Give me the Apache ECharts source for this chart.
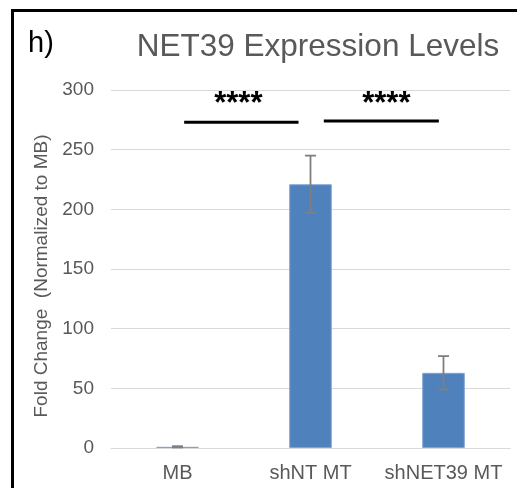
<!DOCTYPE html>
<html>
<head>
<meta charset="utf-8">
<script src="https://cdn.jsdelivr.net/npm/echarts@6/dist/echarts.min.js"></script>
<style>
html,body{margin:0;padding:0;background:#fff;}
#c{width:517px;height:488px;}
</style>
</head>
<body>
<div id="c"></div>
<script>
var categories = ['MB', 'shNT MT', 'shNET39 MT'];
var values = [1, 221, 63];
var errors = [0.5, 24, 14];
var yTicks = [0, 50, 100, 150, 200, 250, 300];
var sigFrom = [0, 1];
var sigTo = [1, 2];
var sigLevel = [273, 274];
var sigText = ['****', '****'];
var starLevel = [288, 288];

var chart = echarts.init(document.getElementById('c'));
var FONT = 'Liberation Sans, Arial, sans-serif';
var GREY = '#595959';
var insetL = [0.05, 0.10];
var insetR = [0.09, 0.035];

var errData = categories.map(function (c, i) { return [i, values[i] - errors[i], values[i] + errors[i]]; });
var sigData = sigFrom.map(function (f, i) { return [f, sigTo[i], sigLevel[i], starLevel[i], sigText[i], i]; });

chart.setOption({
  animation: false,
  backgroundColor: '#fff',
  textStyle: { fontFamily: FONT },
  title: {
    text: 'NET39 Expression Levels',
    left: 313, top: 26, textAlign: 'center',
    textStyle: { fontFamily: FONT, fontSize: 31.5, fontWeight: 'normal', color: GREY }
  },
  graphic: [
    { type: 'line', shape: { x1: 12.5, y1: 9, x2: 12.5, y2: 488 }, style: { stroke: '#000', lineWidth: 3 } },
    { type: 'line', shape: { x1: 11, y1: 10.5, x2: 517, y2: 10.5 }, style: { stroke: '#000', lineWidth: 3 } },
    { type: 'text', left: 28, top: 29, style: { text: 'h)', fontFamily: FONT, fontSize: 29, fill: '#000' } },
    { type: 'text', x: 42, y: 276, rotation: Math.PI / 2,
      style: { text: 'Fold Change  (Normalized to MB)', fontFamily: FONT, fontSize: 19, fill: GREY, align: 'center', verticalAlign: 'middle' } }
  ],
  grid: { left: 111, right: 7, top: 90, bottom: 40 },
  xAxis: {
    type: 'category',
    data: categories,
    axisLine: { show: true, lineStyle: { color: '#d9d9d9', width: 1 } },
    axisTick: { show: false },
    axisLabel: { interval: 0, color: GREY, fontSize: 20, fontFamily: FONT, margin: 15 }
  },
  yAxis: {
    type: 'value',
    min: yTicks[0], max: yTicks[yTicks.length - 1], interval: 50,
    axisLine: { show: false },
    axisTick: { show: false },
    axisLabel: { color: GREY, fontSize: 19, fontFamily: FONT, margin: 17 },
    splitLine: { lineStyle: { color: '#d9d9d9', width: 1 } }
  },
  series: [
    {
      type: 'bar',
      data: values,
      barWidth: '32%',
      itemStyle: { color: '#4f81bd', borderColor: '#7ea3d6', borderWidth: 1 },
      z: 2
    },
    {
      type: 'custom',
      data: errData,
      z: 3,
      renderItem: function (params, api) {
        var x = api.value(0);
        var lo = api.coord([x, api.value(1)]);
        var hi = api.coord([x, api.value(2)]);
        var cap = 5.5;
        var st = { stroke: '#7f7f7f', lineWidth: 1.8 };
        return {
          type: 'group',
          children: [
            { type: 'line', shape: { x1: lo[0], y1: lo[1], x2: hi[0], y2: hi[1] }, style: st },
            { type: 'line', shape: { x1: lo[0] - cap, y1: lo[1], x2: lo[0] + cap, y2: lo[1] }, style: st },
            { type: 'line', shape: { x1: hi[0] - cap, y1: hi[1], x2: hi[0] + cap, y2: hi[1] }, style: st }
          ]
        };
      }
    },
    {
      type: 'custom',
      data: sigData,
      z: 4,
      clip: false,
      renderItem: function (params, api) {
        var k = api.value(5);
        var band = api.size([1, 0])[0];
        var a = api.coord([api.value(0), api.value(2)]);
        var b = api.coord([api.value(1), api.value(2)]);
        var s = api.coord([api.value(0), api.value(3)]);
        var x1 = a[0] + band * insetL[k];
        var x2 = b[0] - band * insetR[k];
        var sx = (x1 + x2) / 2 + (k === 0 ? -3 : 5);
        return {
          type: 'group',
          children: [
            { type: 'line', shape: { x1: x1, y1: a[1], x2: x2, y2: b[1] }, style: { stroke: '#000', lineWidth: 3 } },
            { type: 'text', x: sx, y: s[1], style: { text: api.value(4), fontFamily: FONT, fontSize: 31, fontWeight: 'bold', fill: '#000', align: 'center', verticalAlign: 'middle' } }
          ]
        };
      }
    }
  ]
});
</script>
</body>
</html>
